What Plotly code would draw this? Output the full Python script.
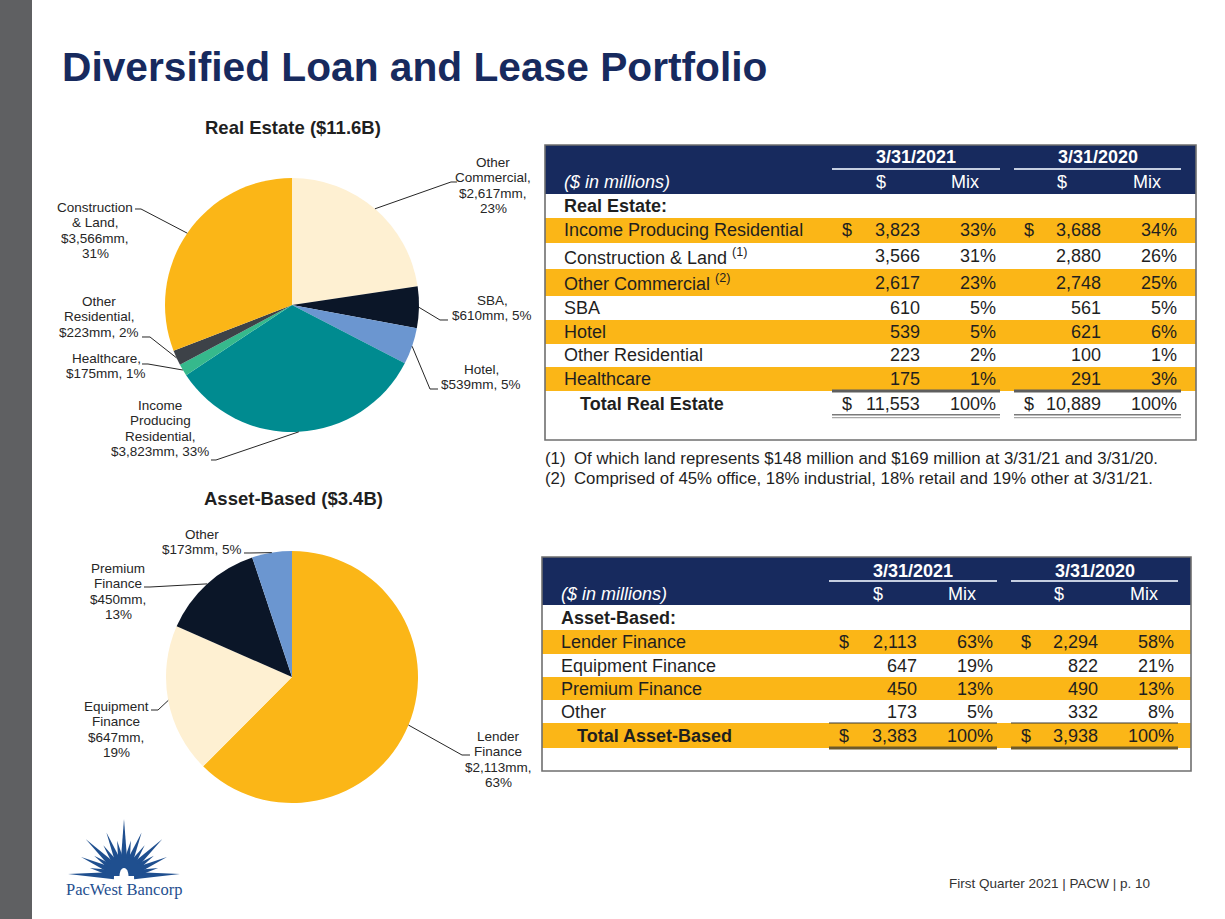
import math
import plotly.graph_objects as go

W, H = 1225, 919
SANS = "Arial, 'Liberation Sans', Helvetica, sans-serif"
SERIF = "'Times New Roman', 'Liberation Serif', serif"
NAVY = "#172A5E"
GOLD = "#FBB617"
INK = "#1F1F1F"
LOGO_BLUE = "#1F4F8F"

# ---------------- data ----------------
# Real Estate pie (clockwise from 12 o'clock)
re_labels = ["Other Commercial", "SBA", "Hotel", "Income Producing Residential",
             "Healthcare", "Other Residential", "Construction & Land"]
re_values = [2617, 610, 539, 3823, 175, 223, 3566]
re_pcts = [23, 5, 5, 33, 1, 2, 31]
re_colors = ["#FEF0D2", "#0B1628", "#6B96D0", "#008B90", "#36B98C", "#3D4248", "#FBB617"]

# Asset-Based pie
ab_labels = ["Lender Finance", "Equipment Finance", "Premium Finance", "Other"]
ab_values = [2113, 647, 450, 173]
ab_pcts = [63, 19, 13, 5]
ab_colors = ["#FBB617", "#FEF0D2", "#0B1628", "#6B96D0"]

# Tables
periods = ["3/31/2021", "3/31/2020"]
re_rows = ["Income Producing Residential", "Construction & Land", "Other Commercial",
           "SBA", "Hotel", "Other Residential", "Healthcare"]
re_row_notes = ["", "(1)", "(2)", "", "", "", ""]
re_amt_2021 = [3823, 3566, 2617, 610, 539, 223, 175]
re_mix_2021 = [33, 31, 23, 5, 5, 2, 1]
re_amt_2020 = [3688, 2880, 2748, 561, 621, 100, 291]
re_mix_2020 = [34, 26, 25, 5, 6, 1, 3]
re_total = [11553, 10889]

ab_rows = ["Lender Finance", "Equipment Finance", "Premium Finance", "Other"]
ab_row_notes = ["", "", "", ""]
ab_amt_2021 = [2113, 647, 450, 173]
ab_mix_2021 = [63, 19, 13, 5]
ab_amt_2020 = [2294, 822, 490, 332]
ab_mix_2020 = [58, 21, 13, 8]
ab_total = [3383, 3938]

footnote_marks = ["(1)", "(2)"]
footnote_texts = ["Of which land represents $148 million and $169 million at 3/31/21 and 3/31/20.",
                  "Comprised of 45% office, 18% industrial, 18% retail and 19% other at 3/31/21."]

page_title = "Diversified Loan and Lease Portfolio"
re_title = "Real Estate ($11.6B)"
ab_title = "Asset-Based ($3.4B)"
footer = "First Quarter 2021 | PACW | p. 10"
company = "PacWest Bancorp"

# ---------------- helpers (pixel -> paper) ----------------
def X(px):
    return px / W


def Y(py):
    return 1 - py / H


shapes = []
annotations = []


def rect(x0, y0, x1, y1, fill, line_color=None, line_width=0, layer="below"):
    shapes.append(dict(type="rect", xref="paper", yref="paper",
                       x0=X(x0), x1=X(x1), y0=Y(y1), y1=Y(y0),
                       fillcolor=fill if fill else "rgba(0,0,0,0)",
                       line=dict(color=line_color or "rgba(0,0,0,0)", width=line_width),
                       layer=layer))


def hline(x0, x1, y, color, width=1):
    shapes.append(dict(type="line", xref="paper", yref="paper",
                       x0=X(x0), x1=X(x1), y0=Y(y), y1=Y(y),
                       line=dict(color=color, width=width), layer="above"))


def polyline(pts, color, width=1):
    d = "M " + " L ".join(f"{X(x):.5f} {Y(y):.5f}" for x, y in pts)
    shapes.append(dict(type="path", xref="paper", yref="paper", path=d,
                       line=dict(color=color, width=width), layer="above"))


def polygon(pts, fill):
    d = "M " + " L ".join(f"{X(x):.5f} {Y(y):.5f}" for x, y in pts) + " Z"
    shapes.append(dict(type="path", xref="paper", yref="paper", path=d,
                       fillcolor=fill, line=dict(width=0), layer="above"))


def text(x, y, s, size, color=INK, xanchor="left", bold=False, italic=False, family=SANS):
    annotations.append(dict(xref="paper", yref="paper", x=X(x), y=Y(y), text=s,
                            showarrow=False, xanchor=xanchor, yanchor="middle",
                            align="center" if xanchor == "center" else xanchor,
                            borderpad=0, borderwidth=0,
                            font=dict(family=family, size=size, color=color,
                                      weight="bold" if bold else "normal",
                                      style="italic" if italic else "normal")))


# ---------------- background decorations ----------------
rect(0, 0, 32, H, "#5F6062")
text(62, 67, page_title, 40.7, color=NAVY, bold=True)

# ---------------- pies ----------------
PIE1 = dict(cx=292, cy=305, r=127)
PIE2 = dict(cx=292, cy=677, r=126)

fig = go.Figure()


def add_pie(labels, values, colors, P):
    fig.add_trace(go.Pie(
        labels=labels, values=values, sort=False, direction="clockwise", rotation=0,
        marker=dict(colors=colors, line=dict(width=0)), textinfo="none",
        hoverinfo="label+value+percent", showlegend=False,
        domain=dict(x=[X(P["cx"] - P["r"]), X(P["cx"] + P["r"])],
                    y=[Y(P["cy"] + P["r"]), Y(P["cy"] - P["r"])])))


add_pie(re_labels, re_values, re_colors, PIE1)
add_pie(ab_labels, ab_values, ab_colors, PIE2)

text(PIE1["cx"] + 1, 127, re_title, 18.5, bold=True, xanchor="center")
text(PIE2["cx"] + 1, 498, ab_title, 18.5, bold=True, xanchor="center")

LABEL_LINE = 15.6
RE_LABEL_LAYOUT = {
    "Other Commercial": dict(cx=493, y=162, wrap=[1, 1], join=False, elbow=[(451, 182), (457, 182)]),
    "SBA": dict(cx=492, y=300, wrap=[1], join=True, elbow=[(440, 320), (448, 320)]),
    "Hotel": dict(cx=481, y=369, wrap=[1], join=True, elbow=[(430, 389), (438, 389)]),
    "Income Producing Residential": dict(cx=160, y=405, wrap=[1, 1, 1], join=True, elbow=[(216, 460), (211, 460)]),
    "Healthcare": dict(cx=106, y=358, wrap=[1], join=True, elbow=[(148, 364), (142, 364)]),
    "Other Residential": dict(cx=99, y=301, wrap=[1, 1], join=True, elbow=[(150, 337), (142, 337)]),
    "Construction & Land": dict(cx=95, y=207, wrap=[1, 2], join=False, elbow=[(141, 209), (135, 209)]),
}
AB_LABEL_LAYOUT = {
    "Lender Finance": dict(cx=498, y=736, wrap=[1, 1], join=False, elbow=[(462, 755), (470, 755)]),
    "Equipment Finance": dict(cx=116, y=706, wrap=[1, 1], join=False, elbow=[(158, 710), (151, 710)]),
    "Premium Finance": dict(cx=118, y=568, wrap=[1, 1], join=False, elbow=[(150, 587), (144, 587)]),
    "Other": dict(cx=202, y=534, wrap=[1], join=True, elbow=[(250, 553), (244, 553)]),
}


def pie_labels(labels, values, pcts, P, layout, name_comma):
    total = sum(values)
    cum = 0.0
    for lab, v, p in zip(labels, values, pcts):
        mid = (cum + v / 2) / total * 2 * math.pi
        cum += v
        rim = (P["cx"] + P["r"] * math.sin(mid), P["cy"] - P["r"] * math.cos(mid))
        L = layout[lab]
        words = lab.split(" ")
        lines, i = [], 0
        for n in L["wrap"]:
            lines.append(" ".join(words[i:i + n]))
            i += n
        if name_comma:
            lines[-1] += ","
        amt = f"${v:,}mm,"
        if L["join"]:
            lines.append(f"{amt} {p}%")
        else:
            lines += [amt, f"{p}%"]
        for j, s in enumerate(lines):
            text(L["cx"], L["y"] + j * LABEL_LINE, s, 13.5, color="#262626", xanchor="center")
        polyline([rim] + L["elbow"], "#262626", 1)


pie_labels(re_labels, re_values, re_pcts, PIE1, RE_LABEL_LAYOUT, True)
pie_labels(ab_labels, ab_values, ab_pcts, PIE2, AB_LABEL_LAYOUT, False)

# ---------------- tables ----------------
COLS = dict(label=19, total_label=35, dollar=[297, 479], amt=[375, 556], mix=[451, 632],
            ul=[(287, 455), (469, 636)], hdr_dollar=[336, 517], hdr_mix=[420, 602])


def draw_table(x0, x1, top, bottom, hdr_bottom, hdr_y, bounds, section, rows, notes,
               a21, m21, a20, m20, total, total_label, gold_rows, total_gold, rules):
    rect(x0, top, x1, hdr_bottom, NAVY)
    for i in range(len(rows)):
        if i in gold_rows:
            rect(x0, bounds[i + 1], x1, bounds[i + 2], GOLD)
    if total_gold:
        rect(x0, bounds[-2], x1, bounds[-1], GOLD)
    rect(x0, top, x1, bottom, None, line_color="#6F6F6F", line_width=1.6)

    d_y, ul_y, sub_y = hdr_y
    for k, p in enumerate(periods):
        u0, u1 = COLS["ul"][k]
        text(x0 + (u0 + u1) / 2, d_y, p, 18, color="white", xanchor="center", bold=True)
        hline(x0 + u0, x0 + u1, ul_y, "#C5CEE0", 2)
        text(x0 + COLS["hdr_dollar"][k], sub_y, "$", 18, color="white", xanchor="center")
        text(x0 + COLS["hdr_mix"][k], sub_y, "Mix", 18, color="white", xanchor="center")
    text(x0 + COLS["label"], sub_y, "($ in millions)", 18, color="white", italic=True)

    def cy(i):
        return (bounds[i] + bounds[i + 1]) / 2

    text(x0 + COLS["label"], cy(0), section, 18, bold=True)
    for i, lab in enumerate(rows):
        y = cy(i + 1)
        s = lab + (f" <sup>{notes[i]}</sup>" if notes[i] else "")
        text(x0 + COLS["label"], y, s, 18)
        for k, (amts, mixes) in enumerate([(a21, m21), (a20, m20)]):
            if i == 0:
                text(x0 + COLS["dollar"][k], y, "$", 18)
            text(x0 + COLS["amt"][k], y, f"{amts[i]:,}", 18, xanchor="right")
            text(x0 + COLS["mix"][k], y, f"{mixes[i]}%", 18, xanchor="right")
    yt = cy(len(rows) + 1)
    text(x0 + COLS["total_label"], yt, total_label, 18, bold=True)
    for k in range(2):
        text(x0 + COLS["dollar"][k], yt, "$", 18)
        text(x0 + COLS["amt"][k], yt, f"{total[k]:,}", 18, xanchor="right")
        text(x0 + COLS["mix"][k], yt, "100%", 18, xanchor="right")
    for y, kind, color in rules:
        for k in range(2):
            u0, u1 = COLS["ul"][k]
            if kind == "double":
                hline(x0 + u0, x0 + u1, y - 1.3, color, 1.4)
                hline(x0 + u0, x0 + u1, y + 1.6, "#A8A8A8", 1.4)
            elif kind == "thick":
                hline(x0 + u0, x0 + u1, y, color, 3)
            else:
                hline(x0 + u0, x0 + u1, y, color, 1.2)


draw_table(545, 1196, 145, 440, 194, (157, 169, 182),
           [194, 218, 243, 269, 296, 320, 344, 367, 391, 417],
           "Real Estate:", re_rows, re_row_notes,
           re_amt_2021, re_mix_2021, re_amt_2020, re_mix_2020, re_total,
           "Total Real Estate", gold_rows={0, 2, 4, 6}, total_gold=False,
           rules=[(391, "thick", "#5E5E5E"), (416, "double", "#7A7A7A")])

draw_table(542, 1191, 557, 771, 605, (571, 581, 594),
           [605, 630, 654, 677, 700, 723, 748],
           "Asset-Based:", ab_rows, ab_row_notes,
           ab_amt_2021, ab_mix_2021, ab_amt_2020, ab_mix_2020, ab_total,
           "Total Asset-Based", gold_rows={0, 2}, total_gold=True,
           rules=[(723, "single", "#3A3A3A"), (748, "thick", "#6E5A2A")])

for j, (m, t) in enumerate(zip(footnote_marks, footnote_texts)):
    text(545, 458 + j * 20, m, 16.8)
    text(574, 458 + j * 20, t, 16.8)

# ---------------- footer & logo ----------------
text(1150, 883, footer, 13.5, color="#333333", xanchor="right")


def draw_logo(cx, cy):
    spikes = [(0, 57), (11, 36), (-11, 36), (22, 47), (-22, 47), (34, 37), (-34, 37),
              (46, 53), (-46, 53), (56, 36), (-56, 36), (66, 47), (-66, 47),
              (77, 35), (-77, 35), (88, 56), (-88, 56)]
    for a, L in spikes:
        t = math.radians(a)
        d = (math.sin(t), -math.cos(t))
        p = (math.cos(t), math.sin(t))
        r0, w = 10, 3.6
        b1 = (cx + r0 * d[0] + w * p[0], cy + r0 * d[1] + w * p[1])
        b2 = (cx + r0 * d[0] - w * p[0], cy + r0 * d[1] - w * p[1])
        tip = (cx + L * d[0], cy + L * d[1])
        polygon([b1, tip, b2], LOGO_BLUE)
    body = [(cx + 19 * math.sin(math.radians(a)), cy - 19 * math.cos(math.radians(a)))
            for a in range(-90, 91, 10)]
    polygon(body, LOGO_BLUE)
    arch = [(cx + 4.5 * math.sin(math.radians(a)), cy - 8 * math.cos(math.radians(a)))
            for a in range(-90, 91, 15)]
    polygon(arch, "white")


draw_logo(124, 876)
text(124, 889, company, 16.5, color=LOGO_BLUE, xanchor="center", family=SERIF)

fig.update_layout(
    width=W, height=H, autosize=False,
    margin=dict(l=0, r=0, t=0, b=0, pad=0),
    paper_bgcolor="white", plot_bgcolor="white",
    shapes=shapes, annotations=annotations,
    font=dict(family=SANS),
)

fig.write_html("out.html", config={"displayModeBar": False},
               post_script="document.body.style.margin='0';document.body.style.overflow='hidden';")
